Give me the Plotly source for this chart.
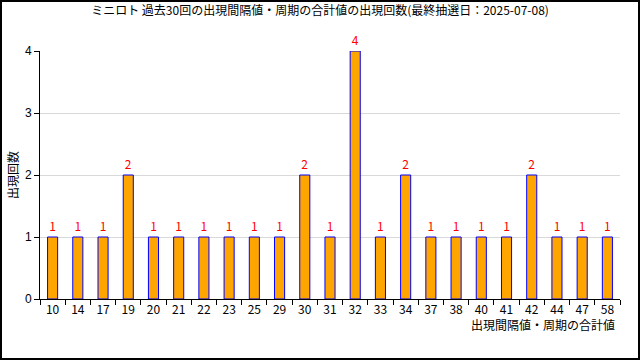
import plotly.graph_objects as go

categories = ["10","14","17","19","20","21","22","23","25","29","30","31","32","33","34","37","38","40","41","42","44","47","58"]
counts = [1,1,1,2,1,1,1,1,1,1,2,1,4,1,2,1,1,1,1,2,1,1,1]
y_ticks = [0,1,2,3,4]

title_text = "ミニロト 過去30回の出現間隔値・周期の合計値の出現回数(最終抽選日：2025-07-08)"
x_title = "出現間隔値・周期の合計値"
y_title = "出現回数"

FONT = "Noto Sans CJK JP"

fig = go.Figure()
fig.add_trace(go.Bar(
    x=categories, y=counts,
    marker=dict(color="#FFA500", line=dict(color="#0000FF", width=1)),
    width=0.4,
    text=[str(v) for v in counts], textposition="outside",
    textfont=dict(color="#FF0000", size=12, family=FONT),
    cliponaxis=False,
))

L, R, T, B = 40, 20, 51, 61
W, H = 640, 360
pw, ph = W - L - R, H - T - B

fig.update_layout(
    width=W, height=H,
    margin=dict(l=L, r=R, t=T, b=B),
    paper_bgcolor="white", plot_bgcolor="white",
    showlegend=False,
    font=dict(family=FONT, size=12, color="#000000"),
    title=dict(text=title_text, x=0.5, xanchor="center", y=1 - 11/H, yanchor="middle",
               font=dict(size=12, family=FONT, color="#000000")),
    xaxis=dict(type="category", tickson="boundaries", ticks="outside", ticklen=5,
               tickcolor="#000000", showline=True, linecolor="#000000", linewidth=1,
               showgrid=False, tickfont=dict(size=12, family=FONT), fixedrange=True),
    yaxis=dict(range=[0, 4], tickvals=y_ticks, ticks="outside", ticklen=5,
               tickcolor="#000000", showline=True, linecolor="#000000", linewidth=1,
               showgrid=True, gridcolor="#D9D9D9", zeroline=False,
               tickfont=dict(size=12, family="Liberation Sans"), fixedrange=True),
    bargap=0.6,
)

fig.add_annotation(text=x_title, xref="paper", yref="paper", x=(617 - L)/pw, y=(T + ph - 324)/ph,
                   xanchor="right", yanchor="middle", showarrow=False, font=dict(size=12, family=FONT))
fig.add_annotation(text=y_title, xref="paper", yref="paper", x=(12 - L)/pw, y=(T + ph - 175)/ph,
                   xanchor="center", yanchor="middle", textangle=-90, showarrow=False,
                   font=dict(size=12, family=FONT))

inset = 1
fig.add_shape(type="rect", xref="paper", yref="paper",
              x0=(inset - L)/pw, x1=(W - inset - L)/pw,
              y0=(T + ph - (H - inset))/ph, y1=(T + ph - inset)/ph,
              line=dict(color="#000000", width=2), fillcolor="rgba(0,0,0,0)", layer="above")

fig.write_html("out.html", config={"displayModeBar": False},
               post_script="document.body.style.margin='0';document.body.style.overflow='hidden';")
